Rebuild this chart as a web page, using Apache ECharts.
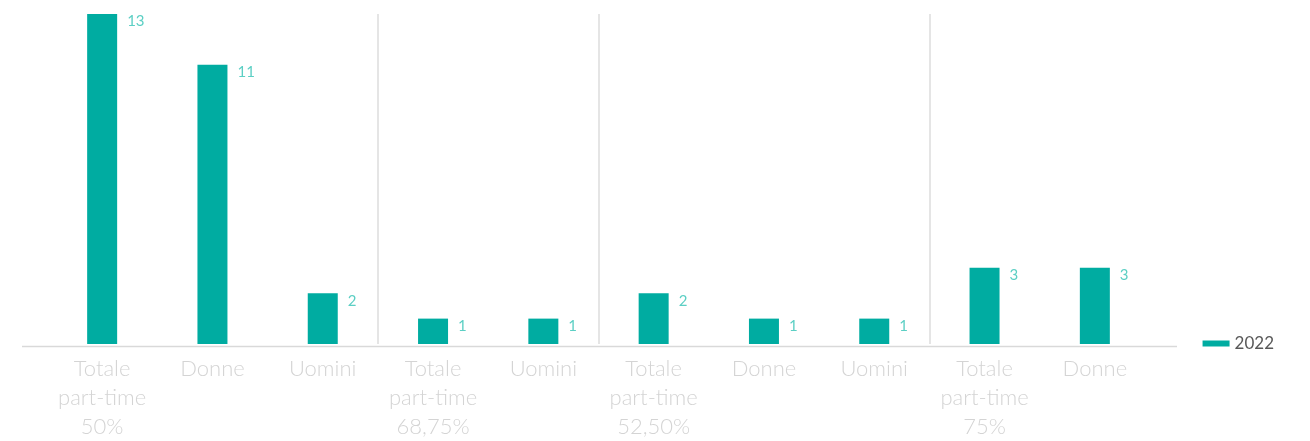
<!DOCTYPE html>
<html><head><meta charset="utf-8">
<script src="https://cdn.jsdelivr.net/npm/echarts@6/dist/echarts.min.js"></script>
<style>html,body{margin:0;padding:0;background:#fff}#c{width:1310px;height:441px}</style>
</head><body><div id="c"></div>
<script>
const categories = ["Totale\npart-time\n50%","Donne","Uomini","Totale\npart-time\n68,75%","Uomini","Totale\npart-time\n52,50%","Donne","Uomini","Totale\npart-time\n75%","Donne"];
const values2022 = [13,11,2,1,1,2,1,1,3,3];
const seriesName = "2022";
const groupBoundaries = [3,5,8];

const chart = echarts.init(document.getElementById('c'));
chart.setOption({
  animation:false,
  textStyle:{fontFamily:'Lato'},
  grid:{left:47,right:160,top:14,bottom:95},
  legend:{right:31,top:330,itemWidth:27,itemHeight:6,itemGap:7,icon:'rect',
    textStyle:{color:'#595959',fontSize:17,fontFamily:'Lato'},data:[seriesName]},
  xAxis:[{type:'category',data:categories,
    axisLine:{show:false},axisTick:{show:false},
    axisLabel:{color:'#d4d4d4',fontSize:22,lineHeight:29,margin:10,interval:0,fontWeight:300,fontFamily:'Lato'},
    splitLine:{show:false}
  },{type:'value',min:0,max:categories.length,show:false,splitLine:{show:false}}],
  yAxis:{type:'value',min:0,max:13,show:false,splitLine:{show:false}},
  graphic:[{type:'line',shape:{x1:22,y1:346.5,x2:1177,y2:346.5},style:{stroke:'#d9d9d9',lineWidth:1.5},z:10}],
  series:[{name:seriesName,type:'bar',data:values2022,barWidth:30,
    itemStyle:{color:'#00ACA1'},
    label:{show:true,position:[40,0],align:'left',verticalAlign:'top',color:'#5ccfc4',fontSize:15,fontFamily:'Lato'}
  },{name:'sep',type:'line',xAxisIndex:1,data:[],
    markLine:{silent:true,symbol:['none','none'],label:{show:false},
      lineStyle:{color:'#dcdcdc',width:1.5,type:'solid'},
      data:groupBoundaries.map(function(b){return {xAxis:b};})}
  }]
});
</script></body></html>
